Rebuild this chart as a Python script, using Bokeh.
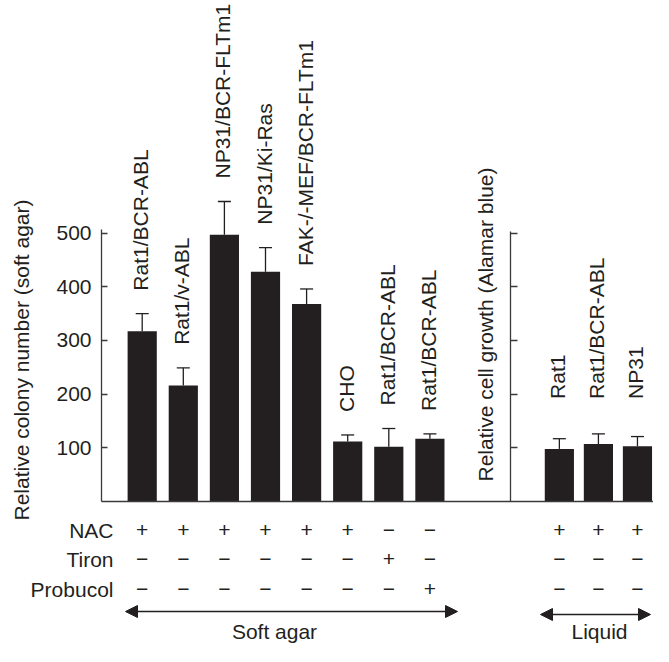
import math
from bokeh.plotting import figure
from bokeh.models import LinearAxis, FixedTicker, Range1d, ColumnDataSource, Arrow, NormalHead
from bokeh.core.properties import value
from bokeh.embed import file_html
from bokeh.resources import INLINE

# ---------------- data ----------------
soft_agar_lines = ["Rat1/BCR-ABL", "Rat1/v-ABL", "NP31/BCR-FLTm1", "NP31/Ki-Ras",
                   "FAK-/-MEF/BCR-FLTm1", "CHO", "Rat1/BCR-ABL", "Rat1/BCR-ABL"]
soft_agar_colonies = [317, 216, 497, 428, 368, 112, 102, 117]
soft_agar_errors = [33, 33, 62, 45, 28, 12, 34, 9]

liquid_lines = ["Rat1", "Rat1/BCR-ABL", "NP31"]
liquid_growth = [98, 107, 103]
liquid_errors = [19, 19, 18]

treatments = ["NAC", "Tiron", "Probucol"]
nac_soft = ["+", "+", "+", "+", "+", "+", "−", "−"]
tiron_soft = ["−", "−", "−", "−", "−", "−", "+", "−"]
probucol_soft = ["−", "−", "−", "−", "−", "−", "−", "+"]
nac_liquid = ["+", "+", "+"]
tiron_liquid = ["−", "−", "−"]
probucol_liquid = ["−", "−", "−"]

y_ticks = [100, 200, 300, 400, 500]
left_axis_title = "Relative colony number (soft agar)"
right_axis_title = "Relative cell growth (Alamar blue)"
group_titles = ["Soft agar", "Liquid"]

# ---------------- layout helpers (screen px -> data) ----------------
X0_PX, PX_PER_SLOT = 141.7, 41.1     # first bar centre, pixels per x unit
Y0_PX, PX_PER_UNIT = 501.0, 0.5367   # baseline, pixels per y unit
def X(px):
    return (px - X0_PX) / PX_PER_SLOT
def Y(py):
    return (Y0_PX - py) / PX_PER_UNIT
def dx(px):
    return px / PX_PER_SLOT
def dy(px):
    return px / PX_PER_UNIT

INK = "#231f20"
AXIS = "#3a3a3a"
FONT = value("Liberation Sans")
FSIZE = value("21px")

left_x = list(range(len(soft_agar_colonies)))
right_x = [10.15 + 0.95 * i for i in range(len(liquid_growth))]

W, H = 653, 646
p = figure(width=W, height=H, output_backend="svg", toolbar_location=None,
           x_range=Range1d(X(0), X(W)),
           y_range=Range1d(Y(H), Y(0)),
           x_axis_location=None, y_axis_location=None,
           min_border=0, min_border_left=0, min_border_right=0,
           min_border_top=0, min_border_bottom=0,
           outline_line_color=None, background_fill_color="white",
           border_fill_color="white")
p.grid.visible = False

# ---------------- axes ----------------
left_axis_x = X(101)
right_axis_x = X(510)

yl = LinearAxis(fixed_location=left_axis_x, bounds=(0, 506),
                ticker=FixedTicker(ticks=y_ticks),
                major_tick_in=6, major_tick_out=0,
                minor_tick_line_color=None,
                axis_line_color=AXIS, axis_line_width=1.3,
                major_tick_line_color=AXIS, major_tick_line_width=1.3,
                major_label_standoff=10,
                major_label_text_font="Liberation Sans",
                major_label_text_font_size="21px",
                major_label_text_color=INK)
p.add_layout(yl, "left")

yr = LinearAxis(fixed_location=right_axis_x, bounds=(0, 504),
                ticker=FixedTicker(ticks=y_ticks),
                major_tick_in=7, major_tick_out=0,
                minor_tick_line_color=None,
                axis_line_color=AXIS, axis_line_width=1.3,
                major_tick_line_color=AXIS, major_tick_line_width=1.3,
                major_label_text_color=None)
p.add_layout(yr, "left")

xb = LinearAxis(fixed_location=0, bounds=(left_axis_x, X(W)),
                ticker=FixedTicker(ticks=[]),
                major_tick_line_color=None, minor_tick_line_color=None,
                axis_line_color=AXIS, axis_line_width=1.6,
                major_label_text_color=None)
p.add_layout(xb, "below")

# ---------------- bars ----------------
left_src = ColumnDataSource(dict(
    x=left_x, top=soft_agar_colonies, err=soft_agar_errors,
    hi=[v + e for v, e in zip(soft_agar_colonies, soft_agar_errors)],
    label=soft_agar_lines))
right_src = ColumnDataSource(dict(
    x=right_x, top=liquid_growth, err=liquid_errors,
    hi=[v + e for v, e in zip(liquid_growth, liquid_errors)],
    label=liquid_lines))

for src in (left_src, right_src):
    p.vbar(x="x", top="top", bottom=0, width=0.71, source=src,
           fill_color=INK, line_color=None)
    p.segment(x0="x", y0="top", x1="x", y1="hi", source=src,
              line_color=INK, line_width=1.3)

caps_x0 = [x - dx(6.5) for x in left_x + right_x]
caps_x1 = [x + dx(6.5) for x in left_x + right_x]
caps_y = [v + e for v, e in zip(soft_agar_colonies + liquid_growth,
                                 soft_agar_errors + liquid_errors)]
p.segment(x0=caps_x0, y0=caps_y, x1=caps_x1, y1=caps_y,
          line_color=INK, line_width=1.3)

# ---------------- bar labels ----------------
p.text(x=[x - dx(1.5) for x in left_x],
       y=[h + dy(23) for h in left_src.data["hi"]],
       text=soft_agar_lines, angle=math.pi / 2,
       text_align="left", text_baseline="middle",
       text_font=FONT, text_font_size=FSIZE, text_color=INK)
right_label_y = max(right_src.data["hi"]) + dy(35)
p.text(x=[x - dx(1.5) for x in right_x],
       y=[right_label_y] * len(right_x),
       text=liquid_lines, angle=math.pi / 2,
       text_align="left", text_baseline="middle",
       text_font=FONT, text_font_size=FSIZE, text_color=INK)

# ---------------- axis titles ----------------
p.text(x=[X(21)], y=[Y(359.5)], text=[left_axis_title],
       angle=math.pi / 2, text_align="center", text_baseline="middle",
       text_font=FONT, text_font_size=FSIZE, text_color=INK)
p.text(x=[X(485)], y=[Y(324)], text=[right_axis_title],
       angle=math.pi / 2, text_align="center", text_baseline="middle",
       text_font=FONT, text_font_size=FSIZE, text_color=INK)

# ---------------- treatment table ----------------
row_y = [Y(529.5), Y(558.5), Y(588.5)]
p.text(x=[X(113)] * 3, y=row_y, text=treatments,
       text_align="right", text_baseline="middle",
       text_font=FONT, text_font_size=FSIZE, text_color=INK)
rows_soft = [nac_soft, tiron_soft, probucol_soft]
rows_liquid = [nac_liquid, tiron_liquid, probucol_liquid]
for ry, rs, rl in zip(row_y, rows_soft, rows_liquid):
    p.text(x=left_x + right_x, y=[ry] * (len(left_x) + len(right_x)),
           text=rs + rl, text_align="center", text_baseline="middle",
           text_font=FONT, text_font_size=FSIZE, text_color=INK)

# ---------------- group arrows ----------------
def head():
    return NormalHead(size=12, fill_color=INK, line_color=INK, line_width=1)

soft_arrow_y = Y(611)
liquid_arrow_y = Y(614)
p.add_layout(Arrow(start=head(), end=head(),
                   x_start=X(125), y_start=soft_arrow_y,
                   x_end=X(457), y_end=soft_arrow_y,
                   line_color=INK, line_width=1.5))
p.add_layout(Arrow(start=head(), end=head(),
                   x_start=X(540), y_start=liquid_arrow_y,
                   x_end=X(650), y_end=liquid_arrow_y,
                   line_color=INK, line_width=1.5))

p.text(x=[X(274), X(599)], y=[Y(631)] * 2,
       text=group_titles, text_align="center", text_baseline="middle",
       text_font=FONT, text_font_size=FSIZE, text_color=INK)

open("out.html", "w").write(file_html(p, INLINE))
